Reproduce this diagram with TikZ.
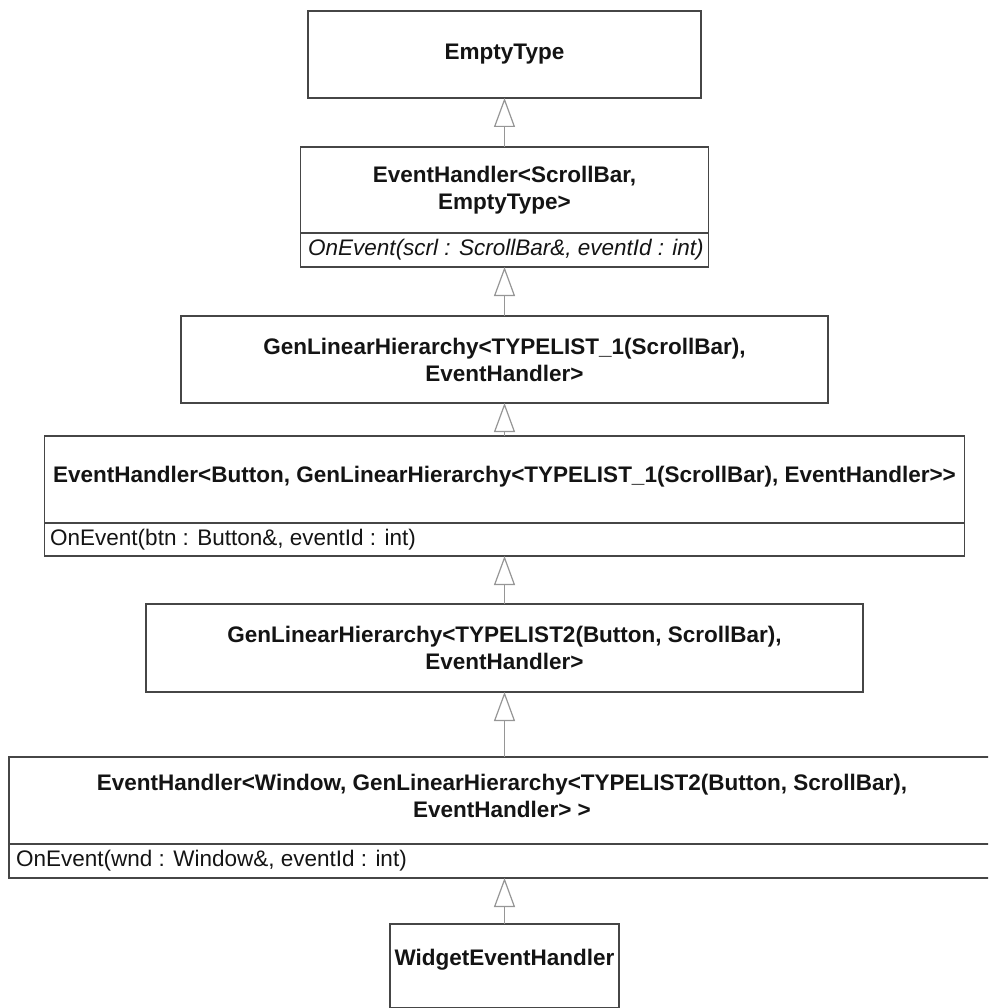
\documentclass[tikz,border=0pt]{standalone}
\usepackage{fontspec}
\setmainfont{Liberation Sans}
\usetikzlibrary{arrows.meta,calc}
\definecolor{boxc}{RGB}{70,70,70}
\definecolor{linkc}{RGB}{150,150,150}
\definecolor{txtc}{RGB}{20,20,20}
\begin{document}
\begin{tikzpicture}[x=1pt,y=-1pt,
  box/.style={draw=boxc, line width=1.8pt, fill=white, inner sep=0pt, outer sep=0pt},
  cname/.style={font=\fontsize{22.5}{27}\selectfont\bfseries, align=center, inner sep=0pt, text=txtc},
  cop/.style={font=\fontsize{22.5}{27}\selectfont, anchor=west, inner sep=0pt, text=txtc},
  sepline/.style={draw=boxc, line width=1.8pt},
  inh/.style={draw=linkc, line width=1.2pt, -{Triangle[length=29pt,width=21pt,fill=white,line width=1.2pt]}}]
\useasboundingbox (0,0) rectangle (988,1008);
\clip (0,0) rectangle (988,1008);
% boxes
\node[box, minimum width=393pt, minimum height=87pt] (b1) at (504.5,54.5) {};
\node[box, minimum width=408pt, minimum height=120pt] (b2) at (504.5,207) {};
\node[box, minimum width=647pt, minimum height=87pt] (b3) at (504.5,359.5) {};
\node[box, minimum width=920pt, minimum height=120pt] (b4) at (504.5,496) {};
\node[box, minimum width=717pt, minimum height=88pt] (b5) at (504.5,648) {};
\node[box, minimum width=991pt, minimum height=121pt] (b6) at (504.5,817.5) {};
\node[box, minimum width=229pt, minimum height=84pt] (b7) at (504.5,966) {};
% separators
\coordinate (s2) at (504.5,233);
\coordinate (s4) at (504.5,523);
\coordinate (s6) at (504.5,844);
\draw[sepline] (b2.west |- s2) -- (b2.east |- s2);
\draw[sepline] (b4.west |- s4) -- (b4.east |- s4);
\draw[sepline] (b6.west |- s6) -- (b6.east |- s6);
% names
\node[cname] (n1) at (b1.center) {EmptyType};
\node[cname] (n2) at (504.5,190) {EventHandler<ScrollBar,\\EmptyType>};
\node[cname] (n3) at (b3.center) {GenLinearHierarchy<TYPELIST\_1(ScrollBar),\\EventHandler>};
\node[cname] (n4) at (504.5,477) {EventHandler<Button, GenLinearHierarchy<TYPELIST\_1(ScrollBar), EventHandler>{}>};
\node[cname] (n5) at (b5.center) {GenLinearHierarchy<TYPELIST2(Button, ScrollBar),\\EventHandler>};
\node[cname] (n6) at (502,796) {EventHandler<Window, GenLinearHierarchy<TYPELIST2(Button, ScrollBar),\\EventHandler> >};
\node[cname] (n7) at (504.5,960) {WidgetEventHandler};
% operations
\node[cop, font=\fontsize{22.5}{27}\selectfont\itshape] (o2) at (308,250) {OnEvent(scrl : ScrollBar\&, eventId : int)};
\node[cop] (o4) at (50,539.5) {OnEvent(btn : Button\&, eventId : int)};
\node[cop] (o6) at (16,861) {OnEvent(wnd : Window\&, eventId : int)};
% inheritance
\draw[inh] (b2.north) -- (b1.south);
\draw[inh] (b3.north) -- (b2.south);
\draw[inh] (b4.north) -- (b3.south);
\draw[inh] (b5.north) -- (b4.south);
\draw[inh] (b6.north) -- (b5.south);
\draw[inh] (b7.north) -- (b6.south);
\end{tikzpicture}
\end{document}
